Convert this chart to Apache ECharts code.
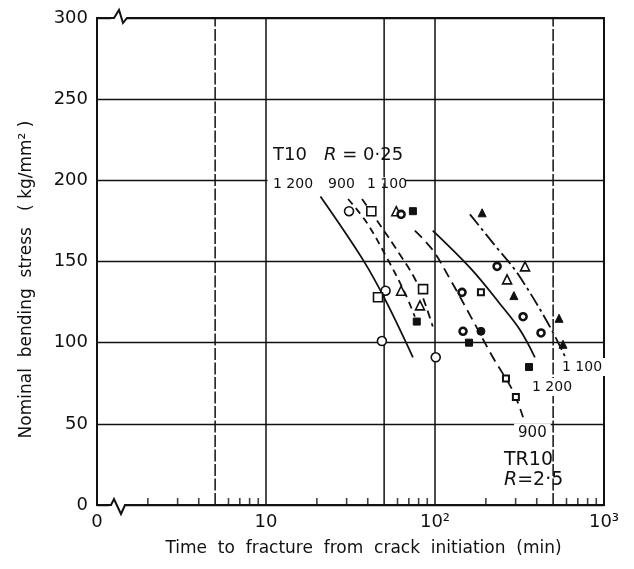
<!DOCTYPE html>
<html>
<head>
<meta charset="utf-8">
<script src="https://cdn.jsdelivr.net/npm/echarts@6/dist/echarts.min.js"></script>
<style>
  html, body { margin: 0; padding: 0; background: #fff; }
  #chart { width: 634px; height: 569px; }
</style>
</head>
<body>
<div id="chart"></div>
<script>
// Axis tick values and labels (time axis is logarithmic, its left end is marked 0)
const xTicks = [1, 10, 100, 1000];
const xTickLabels = ['0', '10', '10²', '10³'];
const yTicks = [0, 50, 100, 150, 200, 250, 300];
const minorTicks = [2, 3, 4, 6, 7, 8, 9, 20, 30, 40, 60, 70, 80, 90, 200, 300, 400, 600, 700, 800, 900];
const gridX = [5, 10, 50, 100, 500];

// Test results [time to fracture (min), nominal bending stress (kg/mm²)]
const openCircle = [[31, 181], [51, 132], [48.5, 101], [101, 91]];
const openSquare = [[42, 181], [46, 128], [85, 133]];
const openTriangle = [[59, 181], [63, 132], [81.5, 123], [267, 139], [341, 147]];
const ringCircle = [[63, 179], [144.5, 131], [146.5, 107], [233, 147], [332, 116], [424, 106]];
const filledSquare = [[74, 181], [78, 113], [159, 100], [360, 85]];
const filledTriangle = [[190, 180], [293, 129], [542, 115], [572, 99]];
const filledCircle = [[187, 107]];
const smallSquare = [[187, 131], [263, 78], [301, 66.5]];

// Fitted curves, T10 (R = 0.25) and TR10 (R = 2.5)
const t10_1200 = [[21, 190], [37.5, 151], [51, 126], [74, 91]];
const t10_900 = [[30.6, 188.5], [39.6, 173.7], [52.7, 151], [66.4, 130.6], [76, 116]];
const t10_1100 = [[37, 188.5], [47.3, 172.5], [59.6, 157], [78, 137], [97, 110]];
const tr10_900 = [[76, 169], [97, 157], [123, 139], [161, 117], [220, 91], [290, 70], [332, 54]];
const tr10_1200 = [[97, 169], [165, 145], [242, 124], [318, 108], [390, 91]];
const tr10_1100 = [[161, 179], [226, 160], [306, 143], [466, 112], [604, 89]];

const INK = '#111';
const FONT = 'DejaVu Sans';

const chart = echarts.init(document.getElementById('chart'));

function points(name, data, symbol, size, filled, bw) {
  return {
    name, type: 'scatter', data, symbol, symbolSize: size, z: 6, silent: true,
    itemStyle: { color: filled ? INK : '#fff', borderColor: INK, borderWidth: bw, opacity: 1 }
  };
}
function curve(name, data, dash) {
  return {
    name, type: 'line', data, symbol: 'none', smooth: 0.35, z: 5, silent: true,
    lineStyle: { color: INK, width: 1.8, type: dash }
  };
}

const series = [];
gridX.forEach(v => {
  const dashed = (v === 5 || v === 500);
  series.push({
    type: 'line', data: [[v, 0], [v, 300]], symbol: 'none', z: 1, silent: true,
    lineStyle: { color: INK, width: 1.5, type: dashed ? [12, 2.5] : 'solid' }
  });
});
series.push({
  type: 'scatter', data: minorTicks.map(v => [v, 0]), symbol: 'rect',
  symbolSize: [1.6, 7], symbolOffset: [0, -3.5], z: 3, silent: true, clip: false,
  itemStyle: { color: INK }
});
series.push(
  curve('T10 1200', t10_1200, 'solid'),
  curve('T10 900', t10_900, [7, 5]),
  curve('T10 1100', t10_1100, [8, 5]),
  curve('TR10 900', tr10_900, [10, 6]),
  curve('TR10 1200', tr10_1200, 'solid'),
  curve('TR10 1100', tr10_1100, [14, 4, 3, 4]),
  points('open circle', openCircle, 'circle', 9, false, 1.6),
  points('open square', openSquare, 'rect', 9, false, 1.6),
  points('open triangle', openTriangle, 'triangle', 9, false, 1.6),
  points('ring circle', ringCircle, 'circle', 7, false, 2.6),
  points('filled square', filledSquare, 'rect', 7, true, 1),
  points('filled triangle', filledTriangle, 'triangle', 8, true, 1),
  points('filled circle', filledCircle, 'circle', 8, true, 1),
  points('small square', smallSquare, 'rect', 6, false, 2)
);

chart.setOption({
  animation: false,
  backgroundColor: '#fff',
  grid: { left: 97, right: 30, top: 18, bottom: 64, show: true, borderColor: INK, borderWidth: 2, backgroundColor: 'transparent' },
  xAxis: {
    type: 'log', logBase: 10, min: xTicks[0], max: xTicks[xTicks.length - 1],
    name: 'Time  to  fracture  from  crack  initiation  (min)',
    nameLocation: 'middle', nameGap: 35,
    nameTextStyle: { fontFamily: FONT, fontSize: 17, color: INK, padding: [0, 0, 0, 26] },
    axisLine: { show: true, lineStyle: { color: INK, width: 2 } },
    axisTick: { show: false },
    splitLine: { show: false },
    minorTick: { show: false },
    axisLabel: {
      fontFamily: FONT, fontSize: 18, color: INK, margin: 8,
      formatter: v => { const i = xTicks.indexOf(Math.round(v)); return i >= 0 ? xTickLabels[i] : ''; }
    }
  },
  yAxis: {
    type: 'value', min: yTicks[0], max: yTicks[yTicks.length - 1], interval: 50,
    name: 'Nominal  bending  stress   ( kg/mm² )',
    nameLocation: 'middle', nameGap: 62,
    nameTextStyle: { fontFamily: FONT, fontSize: 17, color: INK, padding: [0, 36, 0, 0] },
    axisLine: { show: true, lineStyle: { color: INK, width: 2 } },
    axisTick: { show: false },
    splitLine: { show: true, lineStyle: { color: INK, width: 1.4 } },
    axisLabel: { fontFamily: FONT, fontSize: 18, color: INK, margin: 9 }
  },
  series
});

// Annotations anchored in data space (left edge / vertical centre of the text)
const notes = [
  { at: [11, 215.6], text: '{a|T10   }{i|R}{a| = 0·25}', size: 18 },
  { at: [11, 197.8], text: '1 200', size: 14 },
  { at: [23.3, 197.8], text: '900', size: 14 },
  { at: [39.6, 197.8], text: '1 100', size: 14 },
  { at: [564, 85], text: '1 100', size: 14, bg: true },
  { at: [375, 72.7], text: '1 200', size: 14, bg: true },
  { at: [310, 44.4], text: '900', size: 15, bg: true },
  { at: [256, 27.7], text: 'TR10', size: 19 },
  { at: [256, 15.4], text: '{i|R}{a|=2·5}', size: 19 }
];

const px = p => chart.convertToPixel({ xAxisIndex: 0, yAxisIndex: 0 }, p);
const graphics = [];

// white band that interrupts the 200 line behind the T10 curve labels
const bandL = px([10, 200]), bandR = px([65, 200]);
graphics.push({
  type: 'rect', z: 50, silent: true,
  shape: { x: bandL[0] + 1.5, y: bandL[1] - 3, width: bandR[0] - bandL[0], height: 6 },
  style: { fill: '#fff' }
});

notes.forEach(n => {
  const p = px(n.at);
  const rich = {
    a: { fontFamily: FONT, fontSize: n.size, fill: INK },
    i: { fontFamily: FONT, fontSize: n.size, fontStyle: 'italic', fill: INK }
  };
  graphics.push({
    type: 'text', x: p[0] - (n.bg ? 4 : 0), y: p[1], z: 60, silent: true,
    style: {
      text: n.text.indexOf('{') === 0 ? n.text : '{a|' + n.text + '}', rich,
      fill: INK, align: 'left', verticalAlign: 'middle',
      backgroundColor: n.bg ? '#fff' : null, padding: n.bg ? [2, 4] : 0
    }
  });
});

// axis-break marks on the top frame and the time axis
const o = px([1, 0]), t = px([1, 300]);
graphics.push(
  { type: 'rect', z: 70, silent: true, shape: { x: o[0] + 14, y: t[1] - 3, width: 16, height: 6 }, style: { fill: '#fff' } },
  { type: 'polyline', z: 71, silent: true,
    shape: { points: [[o[0] + 14, t[1]], [o[0] + 17, t[1]], [o[0] + 22, t[1] - 8], [o[0] + 26, t[1] + 5], [o[0] + 30, t[1]], [o[0] + 31, t[1]]] },
    style: { stroke: INK, lineWidth: 2, fill: null } },
  { type: 'rect', z: 70, silent: true, shape: { x: o[0] + 12, y: o[1] - 3, width: 16, height: 6 }, style: { fill: '#fff' } },
  { type: 'polyline', z: 71, silent: true,
    shape: { points: [[o[0] + 12, o[1]], [o[0] + 14, o[1]], [o[0] + 17, o[1] - 6], [o[0] + 24, o[1] + 9], [o[0] + 28, o[1]], [o[0] + 29, o[1]]] },
    style: { stroke: INK, lineWidth: 2, fill: null } }
);

chart.setOption({ graphic: graphics });
</script>
</body>
</html>
